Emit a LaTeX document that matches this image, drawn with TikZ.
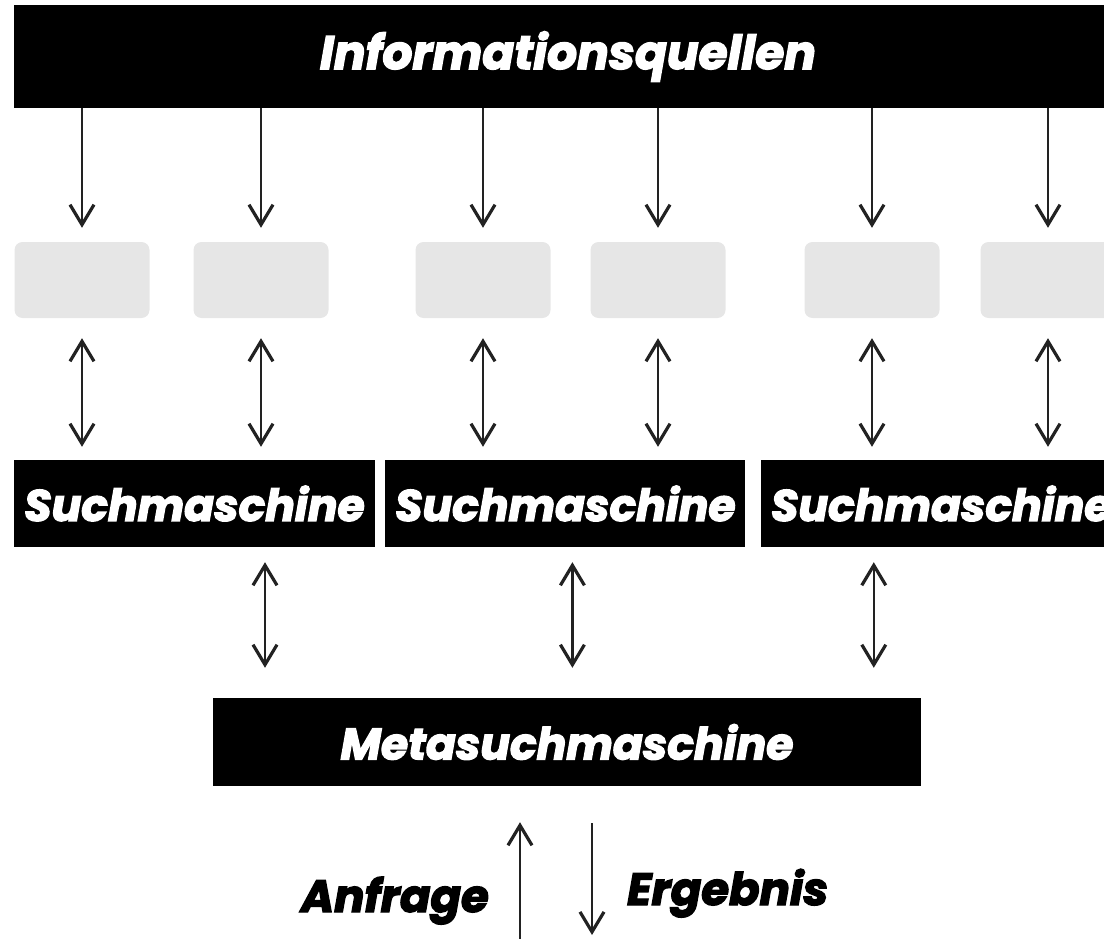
\documentclass[tikz,border=0pt]{standalone}
\usepackage{fontspec}
\setmainfont{Poppins}[BoldItalicFeatures={FakeBold=3}]
\usetikzlibrary{positioning}
\usetikzlibrary{arrows.meta}
\definecolor{storeGrey}{HTML}{E6E6E6}
\definecolor{lineColor}{HTML}{222222}
\newcommand{\headFont}{\fontsize{44}{48}\selectfont\bfseries\itshape}
\newcommand{\labelFont}{\fontsize{45}{50}\selectfont\bfseries\itshape}
\tikzstyle{diagram} = [x = 1pt, y = -1pt]
\tikzstyle{blackBar} = [fill=black, text=white, font=\headFont, inner sep=0pt]
\tikzstyle{storeBox} = [fill=storeGrey, rounded corners = 8pt, minimum width=135pt, minimum height=76pt, inner sep=0pt]
\tikzstyle{flowLine} = [color=lineColor, line width=2.3pt]
\tikzstyle{oneWay} = [flowLine, -{Straight Barb[length=20pt, width=24pt, line width=3.2pt]}]
\tikzstyle{twoWay} = [flowLine, {Straight Barb[length=20pt, width=24pt, line width=3.2pt]}-{Straight Barb[length=20pt, width=24pt, line width=3.2pt]}]
\tikzstyle{labelText} = [text=black, font=\labelFont, inner sep=0pt]

\begin{document}
\begin{tikzpicture}[diagram]
  \useasboundingbox (0,0) rectangle (1104,939);
  \clip (0,0) rectangle (1104,939);
  \node [blackBar, minimum width=1108pt, minimum height=103pt, font=\fontsize{47}{50}\selectfont\bfseries\itshape] (sourceBar) at (568,56.5) {Informationsquellen};
  \foreach \name/\xPos in {1/82, 2/261, 3/483, 4/658, 5/872, 6/1048} {
    \node [storeBox] (store\name) at (\xPos,280) {};
  }
  \node [blackBar, minimum width=361pt, minimum height=87pt] (engine1) at (194.5,503.5) {Suchmaschine};
  \node [blackBar, minimum width=360pt, minimum height=87pt, right=10pt of engine1] (engine2) {Suchmaschine};
  \node [blackBar, minimum width=361pt, minimum height=87pt, right=15pt of engine2] (engine3) {Suchmaschine};
  \node [blackBar, minimum width=708pt, minimum height=88pt] (meta) at (567,742) {Metasuchmaschine};
  % sources to stores to engines
  \foreach \name in {1,...,6} {
    \draw [oneWay, shorten >=14pt] (store\name.north |- sourceBar.south) -- (store\name.north);
    \draw [twoWay, shorten <=20pt, shorten >=13pt] (store\name.south) -- (store\name.south |- engine1.north);
  }
  % engines to meta engine
  \foreach \name/\shift in {1/70.5, 2/7, 3/-67.5} {
    \draw [twoWay, shorten <=15pt, shorten >=30pt] ([xshift=\shift pt]engine\name.south) -- ([xshift=\shift pt]engine\name.south |- meta.north);
  }
  \coordinate (queryFoot) at (520,939);
  \coordinate (resultFoot) at (592,939);
  \draw [oneWay, shorten >=36pt] (queryFoot) -- (queryFoot |- meta.south);
  \draw [oneWay, shorten <=37pt, shorten >=4pt] (resultFoot |- meta.south) -- (resultFoot);
  \node [labelText, anchor=base east] (queryLabel) at (489,912) {Anfrage};
  \node [labelText, anchor=base west] (resultLabel) at (627,905) {Ergebnis};
\end{tikzpicture}
\end{document}
